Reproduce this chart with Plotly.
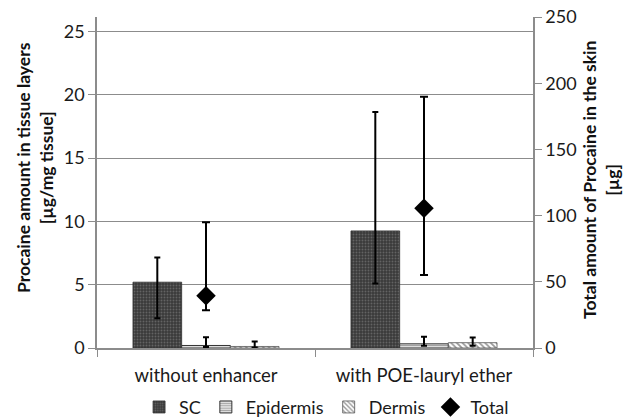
import plotly.graph_objects as go

categories = ["without enhancer", "with POE-lauryl ether"]

sc = [5.2, 9.25]
sc_plus = [1.95, 9.4]
sc_minus = [2.85, 4.15]

epidermis = [0.2, 0.33]
epidermis_plus = [0.65, 0.55]
epidermis_minus = [0.12, 0.15]

dermis = [0.12, 0.42]
dermis_plus = [0.4, 0.4]
dermis_minus = [0.08, 0.25]

total = [39.5, 105.5]
total_plus = [55.5, 84.3]
total_minus = [11.0, 50.4]

left_ticks = [0, 5, 10, 15, 20, 25]
right_ticks = [0, 50, 100, 150, 200, 250]

FONT = "Lato"
AX = "#8c8c8c"
TXT = "#1a1a1a"

fig = go.Figure()

def err(plus, minus, w=3):
    return dict(type="data", symmetric=False, array=plus, arrayminus=minus,
                color="black", thickness=2, width=w)

fig.add_trace(go.Bar(
    name="SC", x=categories, y=sc, error_y=err(sc_plus, sc_minus),
    marker=dict(color="#404040", line=dict(color="#303030", width=0.8),
                pattern=dict(shape=".", bgcolor="#3a3a3a", fgcolor="#8c8c8c", size=3, solidity=0.3)),
))
fig.add_trace(go.Bar(
    name="Epidermis", x=categories, y=epidermis, error_y=err(epidermis_plus, epidermis_minus),
    marker=dict(color="#ffffff", line=dict(color="#333333", width=1),
                pattern=dict(shape="-", bgcolor="#f0f0f0", fgcolor="#555555", size=3, solidity=0.5)),
))
fig.add_trace(go.Bar(
    name="Dermis", x=categories, y=dermis, error_y=err(dermis_plus, dermis_minus),
    marker=dict(color="#ffffff", line=dict(color="#555555", width=0.8),
                pattern=dict(shape="\\", bgcolor="#ffffff", fgcolor="#333333", size=4, solidity=0.45)),
))
fig.add_trace(go.Scatter(
    name="Total", x=categories, y=total, yaxis="y2", mode="markers",
    marker=dict(symbol="diamond", size=15, color="black"),
    error_y=err(total_plus, total_minus, w=4),
))

fig.update_layout(
    width=628, height=419,
    margin=dict(l=97, r=95, t=17, b=71),
    paper_bgcolor="white", plot_bgcolor="white",
    font=dict(family=FONT, size=18, color=TXT),
    barmode="group", bargap=0.33, bargroupgap=0,
    showlegend=True,
    legend=dict(orientation="h", xref="container", yref="container",
                x=0.52, xanchor="center", y=0.028, yanchor="middle",
                font=dict(family=FONT, size=18, color=TXT), itemwidth=30,
                traceorder="normal", bgcolor="rgba(0,0,0,0)"),
    xaxis=dict(type="category", showline=True, linecolor=AX, linewidth=1.5,
               ticks="outside", tickson="boundaries", ticklen=7, tickcolor=AX,
               ticklabelstandoff=10, automargin=False,
               tickfont=dict(family=FONT, size=18.5, color=TXT), showgrid=False),
    yaxis=dict(range=[0, 26.15], tickvals=left_ticks, showline=True, linecolor=AX, linewidth=1.5,
               ticks="outside", ticklen=7, tickcolor=AX, showgrid=True, gridcolor=AX, gridwidth=1,
               zeroline=False, automargin=False, tickfont=dict(family=FONT, size=18, color=TXT)),
    yaxis2=dict(range=[0, 250], tickvals=right_ticks, overlaying="y", side="right",
                showline=True, linecolor=AX, linewidth=1.5, ticks="outside", ticklen=7, tickcolor=AX,
                automargin=False,
                showgrid=False, zeroline=False, tickfont=dict(family=FONT, size=18, color=TXT)),
    annotations=[
        dict(text="<b>Procaine amount in tissue layers</b><br><b>[µg/mg tissue]</b>",
             xref="paper", yref="paper", x=(35 - 97) / 436, y=(348 - 168) / 331,
             xanchor="center", yanchor="middle", textangle=-90, showarrow=False,
             font=dict(family=FONT, size=17.5, color="#111111")),
        dict(text="<b>Total amount of Procaine in the skin</b><br><b>[µg]</b>",
             xref="paper", yref="paper", x=(601 - 97) / 436, y=(348 - 180) / 331,
             xanchor="center", yanchor="middle", textangle=-90, showarrow=False,
             font=dict(family=FONT, size=17.5, color="#111111")),
    ],
)

fig.write_html("out.html")
